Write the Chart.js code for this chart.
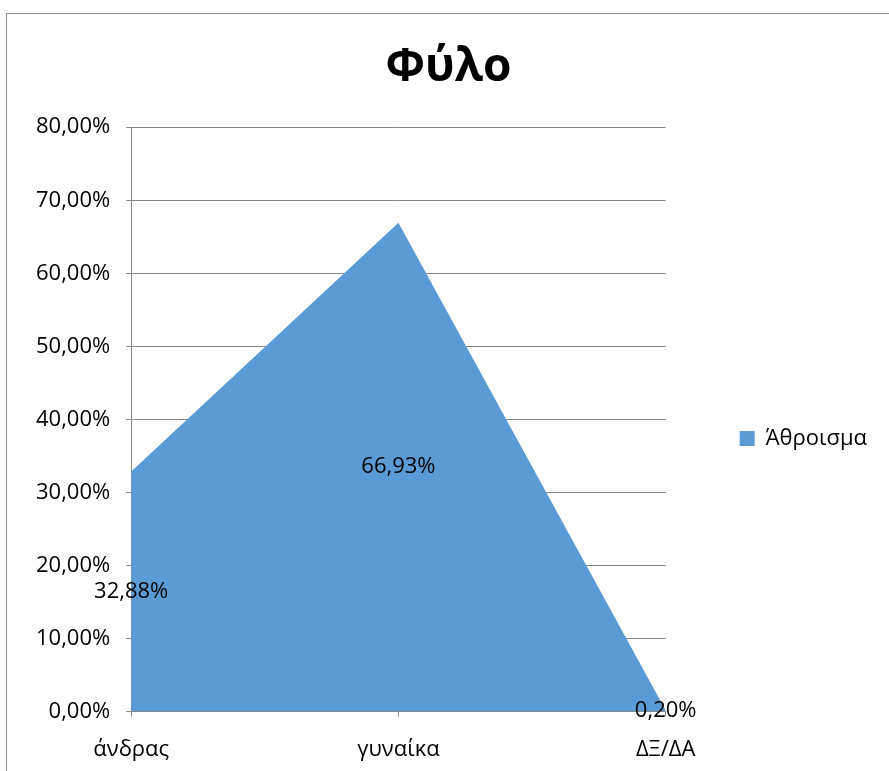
<!DOCTYPE html>
<html>
<head>
<meta charset="utf-8">
<script src="https://cdn.jsdelivr.net/npm/chart.js@4.4.1/dist/chart.umd.min.js"></script>
<style>
  html,body{margin:0;padding:0;background:#fff;overflow:hidden}
  #wrap{position:relative;width:889px;height:771px;overflow:hidden}
  #frame{position:absolute;left:6px;top:13px;width:1000px;height:1000px;border:1px solid #8c8c8c;box-sizing:border-box}
  canvas{position:absolute;left:0;top:0}
</style>
</head>
<body>
<div id="wrap">
  <div id="frame"></div>
  <canvas id="c" width="889" height="790"></canvas>
</div>
<script>
// data
const categories = ['άνδρας', 'γυναίκα', 'ΔΞ/ΔΑ'];
const seriesName = 'Άθροισμα';
const values = [32.88, 66.93, 0.20];
const yTicks = { min: 0, max: 80, step: 10 };

const fam = '"Open Sans", "Liberation Sans", sans-serif';
const pct = v => v.toFixed(2).replace('.', ',') + '%';

// value labels sit half way up each point, like the office chart
const midLabels = {
  id: 'midLabels',
  afterDatasetsDraw(chart) {
    const ctx = chart.ctx, ys = chart.scales.y;
    const meta = chart.getDatasetMeta(0);
    ctx.save();
    ctx.font = '22px ' + fam;
    ctx.fillStyle = '#000';
    ctx.textAlign = 'center';
    ctx.textBaseline = 'middle';
    meta.data.forEach((pt, i) => {
      const v = chart.data.datasets[0].data[i];
      ctx.fillText(pct(v), pt.x, ys.getPixelForValue(v / 2));
    });
    ctx.restore();
  }
};

new Chart(document.getElementById('c'), {
  type: 'line',
  data: {
    labels: categories,
    datasets: [{
      label: seriesName,
      data: values,
      fill: 'origin',
      backgroundColor: '#5B9BD5',
      borderColor: '#5B9BD5',
      borderWidth: 0,
      pointRadius: 0,
      tension: 0
    }]
  },
  options: {
    responsive: false,
    animation: false,
    layout: { padding: { left: 20, right: 12, top: 0, bottom: 7 } },
    plugins: {
      title: {
        display: true, text: 'Φύλο', color: '#000',
        font: { family: fam, size: 46, weight: 'bold' },
        padding: { top: 40, bottom: 32 }
      },
      legend: {
        position: 'right',
        fullSize: false,
        title: { display: true, text: '', font: { size: 10 }, padding: 13 },
        labels: {
          color: '#000', boxWidth: 15, boxHeight: 15, padding: 74,
          font: { family: fam, size: 22 },
          generateLabels: chart => [{
            text: seriesName, fillStyle: '#5B9BD5', strokeStyle: '#5B9BD5',
            fontColor: '#000', lineWidth: 0, datasetIndex: 0
          }]
        }
      },
      tooltip: { enabled: false }
    },
    scales: {
      x: {
        offset: false,
        grid: { drawOnChartArea: false, drawTicks: true, tickLength: 5, color: '#868686' },
        border: { color: '#868686' },
        ticks: { color: '#000', font: { family: fam, size: 22 }, padding: 20, maxRotation: 0 }
      },
      y: {
        min: yTicks.min, max: yTicks.max,
        grid: { color: '#868686', tickLength: 5 },
        border: { color: '#868686' },
        ticks: {
          stepSize: yTicks.step, color: '#000', padding: 16,
          font: { family: fam, size: 22 },
          callback: v => pct(v)
        }
      }
    }
  },
  plugins: [midLabels]
});
</script>
</body>
</html>
